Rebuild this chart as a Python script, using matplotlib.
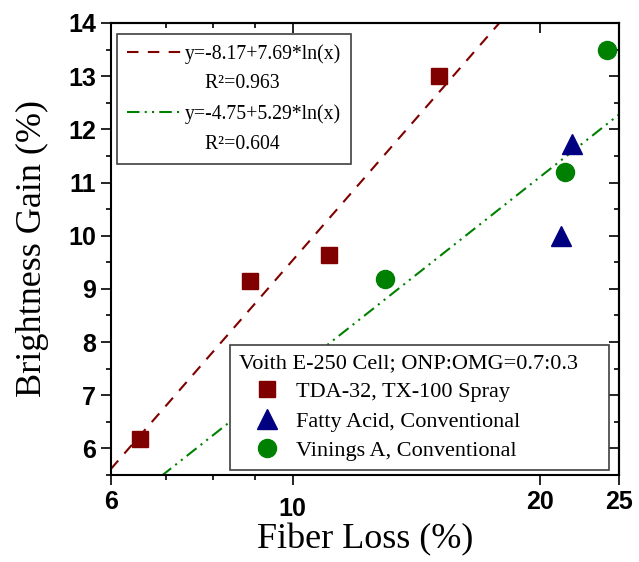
import matplotlib
matplotlib.use('Agg')
import matplotlib.pyplot as plt
from matplotlib.lines import Line2D
from matplotlib.ticker import FixedLocator, NullFormatter
from matplotlib.transforms import ScaledTranslation
import numpy as np

plt.rcParams['font.family'] = ['Liberation Serif', 'DejaVu Serif']

# data
tda_x = [6.52, 8.87, 11.07, 15.09]
tda_y = [6.17, 9.15, 9.64, 13.0]
fatty_x = [21.24, 21.9]
fatty_y = [10.0, 11.72]
vin_x = [12.97, 21.5, 24.15]
vin_y = [9.18, 11.19, 13.49]

# log fits y = a + b*ln(x), as printed in the chart
fit_a = [-8.17, -4.75]
fit_b = [7.69, 5.29]
fit_r2 = ['0.963', '0.604']

major_x = [6, 10, 20, 25]
minor_x = [7, 8, 9]
major_y = [6, 7, 8, 9, 10, 11, 12, 13, 14]
minor_y = [5.5, 6.5, 7.5, 8.5, 9.5, 10.5, 11.5, 12.5, 13.5]

red = '#800000'
blue = '#000080'
green = '#008000'

fig = plt.figure(figsize=(6.39, 5.62), dpi=100)
ax = fig.add_axes([0.1732, 0.1548, 0.7955, 0.8043])

xx = np.linspace(6, 25, 300)
l1, = ax.plot(xx, fit_a[0] + fit_b[0] * np.log(xx), color=red, lw=1.5,
              dashes=(5.5, 4.5))
l2, = ax.plot(xx, fit_a[1] + fit_b[1] * np.log(xx), color=green, lw=1.5,
              dashes=(6, 2.5, 1, 2.5, 1, 2.5))

s1, = ax.plot(tda_x, tda_y, 's', color=red, ms=12, ls='none')
s2, = ax.plot(fatty_x, fatty_y, '^', color=blue, ms=15, ls='none')
s3, = ax.plot(vin_x, vin_y, 'o', color=green, ms=13, ls='none')

ax.set_xscale('log')
ax.set_xlim(6, 25)
ax.set_ylim(5.5, 14)

ax.xaxis.set_major_locator(FixedLocator(major_x))
ax.xaxis.set_minor_locator(FixedLocator(minor_x))
ax.xaxis.set_minor_formatter(NullFormatter())
ax.set_xticklabels([str(v) for v in major_x])
ax.yaxis.set_major_locator(FixedLocator(major_y))
ax.yaxis.set_minor_locator(FixedLocator(minor_y))

for sp in ax.spines.values():
    sp.set_linewidth(1.5)
ax.tick_params(which='major', direction='out', length=7, width=1.2, pad=3.5)
ax.tick_params(which='minor', direction='out', length=3.5, width=1.2)
for lbl in ax.get_xticklabels() + ax.get_yticklabels():
    lbl.set_family('Liberation Sans')
    lbl.set_fontweight('bold')
    lbl.set_fontsize(18)

# the "10" label sits a little lower in the original
lbl10 = ax.xaxis.get_major_ticks()[1].label1
lbl10.set_transform(lbl10.get_transform() + ScaledTranslation(0, -5 / 72, fig.dpi_scale_trans))

# inward ticks on top and right
top = ax.secondary_xaxis('top')
top.set_xticks(major_x)
top.set_xticks(minor_x, minor=True)
top.tick_params(which='major', direction='in', length=7, width=1.2, labeltop=False)
top.tick_params(which='minor', direction='in', length=3.5, width=1.2)
top.spines['top'].set_linewidth(1.5)
right = ax.secondary_yaxis('right')
right.set_yticks(major_y)
right.set_yticks(minor_y, minor=True)
right.tick_params(which='major', direction='in', length=7, width=1.2, labelright=False)
right.tick_params(which='minor', direction='in', length=3.5, width=1.2)
right.spines['right'].set_linewidth(1.5)

ax.set_xlabel('Fiber Loss (%)', fontsize=26, labelpad=2)
ax.set_ylabel('Brightness Gain (%)', fontsize=26, labelpad=14)

blank = Line2D([], [], ls='none')
leg1 = ax.legend([l1, blank, l2, blank],
                 ['y=%.2f+%.2f*ln(x)' % (fit_a[0], fit_b[0]), '    R\u00b2=' + fit_r2[0],
                  'y=%.2f+%.2f*ln(x)' % (fit_a[1], fit_b[1]), '    R\u00b2=' + fit_r2[1]],
                 loc='upper left', bbox_to_anchor=(0.0124, 0.9757), borderaxespad=0,
                 fontsize=14.2, handlelength=2.8, handletextpad=0.15, labelspacing=0.55,
                 borderpad=0.5, fancybox=False, framealpha=1, edgecolor='#404040')
leg1.get_frame().set_linewidth(1.2)

leg2 = ax.legend([s1, s2, s3],
                 ['TDA-32, TX-100 Spray', 'Fatty Acid, Conventional', 'Vinings A, Conventional'],
                 title='Voith E-250 Cell; ONP:OMG=0.7:0.3\u2003', title_fontsize=16,
                 alignment='left', loc='lower right', bbox_to_anchor=(0.9803, 0.011),
                 borderaxespad=0, fontsize=16, handlelength=2.5, handletextpad=0.05,
                 labelspacing=0.4, borderpad=0.4, fancybox=False, framealpha=1,
                 edgecolor='#404040')
leg2.get_frame().set_linewidth(1.2)
ax.add_artist(leg1)

fig.savefig('out.png', dpi=100)
